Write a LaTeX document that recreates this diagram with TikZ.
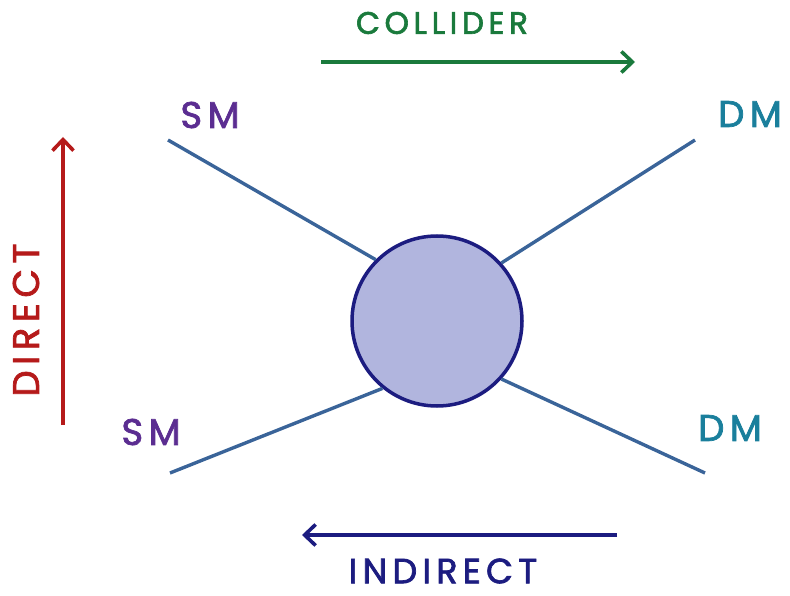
\documentclass[tikz,border=0pt]{standalone}
\usepackage{fontspec}
\setmainfont{Poppins}
\usetikzlibrary{arrows.meta}

\definecolor{smpurple}{HTML}{5B2D91}
\definecolor{dmteal}{HTML}{1A7F9C}
\definecolor{colgreen}{HTML}{1A7A3C}
\definecolor{dirred}{HTML}{B51A1A}
\definecolor{indnavy}{HTML}{1C1C80}
\definecolor{legblue}{HTML}{3A6499}
\definecolor{blobfill}{HTML}{B1B5DE}

\newfontfamily\handfont[LetterSpace=15, FakeBold=2]{Poppins}

\tikzset{
  leg/.style={draw=legblue, line width=3.4pt},
  chan/.style={line width=3.6pt, -{Straight Barb[length=11pt, width=21pt, line width=3.6pt]}},
  lbl/.style={inner sep=0pt},
  big/.style={font=\handfont\fontsize{37}{37}\selectfont}
}

\begin{document}
\begin{tikzpicture}[x=1pt, y=-1pt]
  \useasboundingbox (0,0) rectangle (790,596);

  % --- Blob ---
  \node[circle, draw=indnavy, fill=blobfill, line width=3.5pt,
        minimum size=170pt, inner sep=0pt] (blob) at (437,321) {};

  % --- Legs ---
  \coordinate (smtop) at (168,140);
  \coordinate (smbot) at (170,473);
  \coordinate (dmtop) at (695,140);
  \coordinate (dmbot) at (705,473);

  \draw[leg] (smtop) -- (blob.135);
  \draw[leg] (dmtop) -- (blob.42);
  \draw[leg] (smbot) -- (blob.231);
  \draw[leg] (dmbot) -- (blob.318);

  \node[lbl, big, text=smpurple] (smtoplbl) at (210,115) {SM};
  \node[lbl, big, text=smpurple] (smbotlbl) at (151,432) {SM};
  \node[lbl, big, text=dmteal] (dmtoplbl) at (750,114) {DM};
  \node[lbl, big, text=dmteal] (dmbotlbl) at (730,428) {DM};

  % --- Collider ---
  \coordinate (colstart) at (321,62);
  \coordinate (colend) at (635,62);
  \draw[chan, colgreen] (colstart) -- (colend);
  \node[lbl, text=colgreen, font=\handfont\fontsize{31}{31}\selectfont]
    (collbl) at (442,23) {COLLIDER};

  % --- Direct ---
  \coordinate (dirstart) at (63,425);
  \coordinate (dirend) at (63,137);
  \draw[chan, dirred] (dirstart) -- (dirend);
  \node[lbl, big, text=dirred, rotate=90] (dirlbl) at (26,320) {DIRECT};

  % --- Indirect ---
  \coordinate (indstart) at (617,535);
  \coordinate (indend) at (302,535);
  \draw[chan, indnavy] (indstart) -- (indend);
  \node[lbl, text=indnavy, font=\handfont\fontsize{35}{35}\selectfont]
    (indlbl) at (443,571) {INDIRECT};

\end{tikzpicture}
\end{document}
